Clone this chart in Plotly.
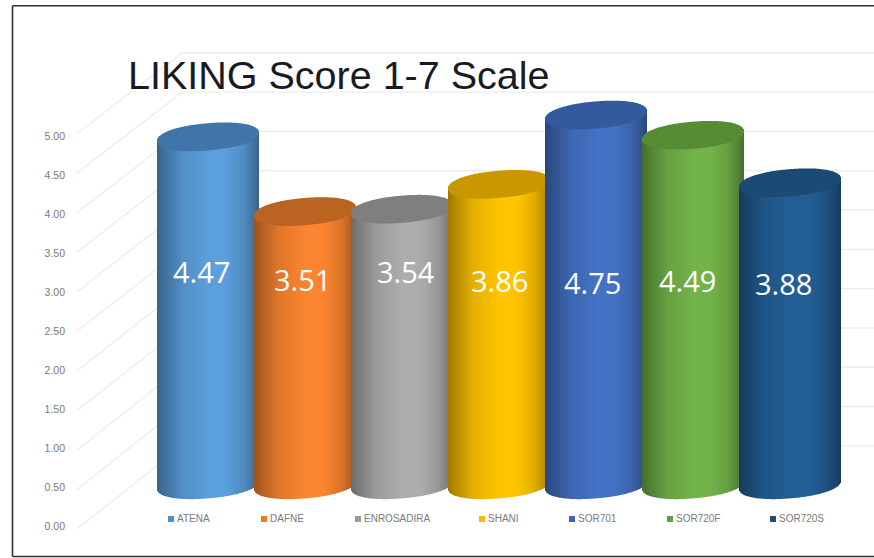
import math
import plotly.graph_objects as go

# ---- data ----
CATEGORIES = ["ATENA", "DAFNE", "ENROSADIRA", "SHANI", "SOR701", "SOR720F", "SOR720S"]
VALUES = [4.47, 3.51, 3.54, 3.86, 4.75, 4.49, 3.88]
TICK_VALUES = [0, 0.5, 1, 1.5, 2, 2.5, 3, 3.5, 4, 4.5, 5]
TICK_LABELS = ["0.00", "0.50", "1.00", "1.50", "2.00", "2.50", "3.00", "3.50", "4.00", "4.50", "5.00"]
TITLE = "LIKING Score 1-7 Scale"

# ---- style ----
BODY_COLORS = ["#5b9fdc", "#fb8530", "#adadad", "#ffc400", "#4472c4", "#72b34a", "#235f96"]
CAP_COLORS = ["#3f75a8", "#bb6320", "#7f7f7f", "#c99800", "#335a9c", "#568c34", "#1b4a74"]
LEGEND_COLORS = ["#4f8fcb", "#e87a2c", "#9a9a9a", "#f5bd0a", "#4063b5", "#639e40", "#1f4e79"]
LABEL_Y = [3.27, 3.17, 3.27, 3.15, 3.13, 3.15, 3.11]
LABEL_XSHIFT = [-7, -3, 3.5, 0, -4, -6, -6.5]
LEGEND_X_PX = [171, 264, 358, 482, 572, 670, 773]

W, H = 874, 558
X_UNIT = 97.0          # pixels per category
X0_PX = 208            # pixel of first category
Y_UNIT = 78.1          # pixels per value, tick axis
Y0_PX = 526.7
CYL_UNIT = 77.85       # pixels per value, cylinders
CYL0_PX = 484.8
HALF_W = 51            # cylinder half width, px
ELL_B = 13.6           # cap half height, px
ELL_K = 0.08           # cap tilt
ELL_P = 2.15           # cap roundness


def px2x(px):
    return (px - X0_PX) / X_UNIT


def shade(hex_color, f):
    r, g, b = (int(hex_color[i:i + 2], 16) for i in (1, 3, 5))
    return f"rgb({int(r * f)},{int(g * f)},{int(b * f)})"


def light(t):
    # cylinder lighting from left edge (t=0) to right edge (t=1)
    pts = [(0, .62), (.08, .72), (.25, .90), (.5, 1.0), (.68, 1.0), (.85, .88), (.95, .72), (1, .62)]
    for (a, fa), (b, fb) in zip(pts, pts[1:]):
        if t <= b:
            return fa + (fb - fa) * (t - a) / (b - a)
    return pts[-1][1]


fig = go.Figure()

# skewed gridlines + back wall, on the tick axis (drawn below the cylinders)
for v in TICK_VALUES:
    fig.add_trace(go.Scatter(
        x=[px2x(77), px2x(182), px2x(W + 2)],
        y=[v * 1.0128 - 0.03, v * 1.0064 + 1.035, v * 1.0064 + 1.035],
        mode="lines", line=dict(color="#ededed", width=1.4),
        hoverinfo="skip", showlegend=False, xaxis="x", yaxis="y"))

# legend row
legend_y = [(Y0_PX - 519) / Y_UNIT] * len(CATEGORIES)
fig.add_trace(go.Scatter(
    x=[px2x(p) for p in LEGEND_X_PX], y=legend_y, mode="markers",
    marker=dict(symbol="square", size=6, color=LEGEND_COLORS),
    hoverinfo="skip", showlegend=False, xaxis="x", yaxis="y"))
fig.add_trace(go.Scatter(
    x=[px2x(p + 6) for p in LEGEND_X_PX], y=legend_y, mode="text",
    text=CATEGORIES, textposition="middle right",
    textfont=dict(family="Liberation Sans", size=10, color="#7a7a7a"),
    hoverinfo="skip", showlegend=False, xaxis="x", yaxis="y"))

# cylinders: vertical 1px slices, so body and cap go through the axis scales
slices = [-HALF_W + i + 0.5 for i in range(2 * HALF_W)]
for i, (cat, val) in enumerate(zip(CATEGORIES, VALUES)):
    xs, body_base, body_h, body_col, cap_base, cap_h = [], [], [], [], [], []
    for dx in slices:
        half = ELL_B * max(0, 1 - abs(dx / HALF_W) ** ELL_P) ** (1 / ELL_P)
        tilt = ELL_K * dx
        lo = -(half - tilt) / CYL_UNIT         # front edge of the base
        centre = val + tilt / CYL_UNIT
        xs.append(i + dx / X_UNIT)
        body_base.append(lo)
        body_h.append(centre - lo)
        body_col.append(shade(BODY_COLORS[i], light((dx + HALF_W) / (2 * HALF_W))))
        cap_base.append(centre - half / CYL_UNIT)
        cap_h.append(2 * half / CYL_UNIT)
    fig.add_trace(go.Bar(x=xs, y=body_h, base=body_base, width=1 / X_UNIT, name=cat,
                         marker=dict(color=body_col, line=dict(width=0)),
                         hoverinfo="skip", showlegend=False, xaxis="x", yaxis="y2"))
    fig.add_trace(go.Bar(x=xs, y=cap_h, base=cap_base, width=1 / X_UNIT, name=cat + " top",
                         marker=dict(color=CAP_COLORS[i], line=dict(width=0)),
                         hoverinfo="skip", showlegend=False, xaxis="x", yaxis="y2"))

annotations = [
    dict(x=i, y=LABEL_Y[i], xref="x", yref="y", xshift=LABEL_XSHIFT[i],
         text=f"{v:.2f}", showarrow=False, xanchor="center", yanchor="middle",
         font=dict(family="Open Sans", size=29, color="white"))
    for i, v in enumerate(VALUES)
]

frame = dict(color="#333333", width=1.6)
shapes = [
    dict(type="line", xref="paper", yref="paper", x0=12.5 / W, x1=12.5 / W, y0=1 - 5.7 / H, y1=1 - 556.5 / H, line=frame),
    dict(type="line", xref="paper", yref="paper", x0=12.5 / W, x1=1, y0=1 - 5.7 / H, y1=1 - 5.7 / H, line=frame),
    dict(type="line", xref="paper", yref="paper", x0=12.5 / W, x1=1, y0=1 - 556.5 / H, y1=1 - 556.5 / H, line=frame),
]

fig.update_layout(
    width=W, height=H, margin=dict(l=0, r=0, t=0, b=0),
    paper_bgcolor="white", plot_bgcolor="white",
    barmode="overlay", showlegend=False,
    title=dict(text=TITLE, x=128 / W, xref="paper", xanchor="left",
               y=1 - 75 / H, yref="paper", yanchor="middle",
               font=dict(family="Liberation Sans", size=39.5, color="#1a1a24")),
    xaxis=dict(range=[px2x(0), px2x(W)], visible=False, domain=[0, 1], fixedrange=True),
    yaxis=dict(range=[(Y0_PX - H) / Y_UNIT, Y0_PX / Y_UNIT], domain=[0, 1],
               anchor="free", position=65 / W, side="left",
               tickmode="array", tickvals=TICK_VALUES, ticktext=TICK_LABELS,
               showgrid=False, zeroline=False, showline=False, ticks="",
               tickfont=dict(family="Liberation Sans", size=10.5, color="#7a7a7a"),
               fixedrange=True),
    yaxis2=dict(range=[(CYL0_PX - H) / CYL_UNIT, CYL0_PX / CYL_UNIT], overlaying="y",
                visible=False, fixedrange=True),
    annotations=annotations, shapes=shapes,
)

fig.write_html("out.html", config={"displayModeBar": False},
               post_script="document.body.style.margin='0';document.body.style.overflow='hidden';")
